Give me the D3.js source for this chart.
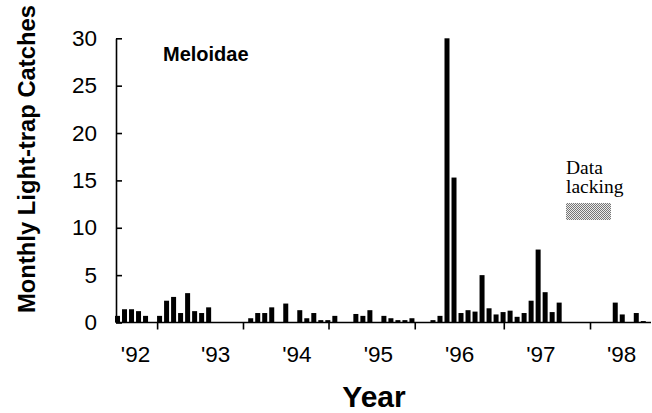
<!DOCTYPE html>
<html>
<head>
<meta charset="utf-8">
<script src="https://cdn.jsdelivr.net/npm/d3@7"></script>
<style>
  body { margin: 0; background: #fff; }
  svg { display: block; }
  .axis path, .axis line { stroke: #000; stroke-width: 1.6; }
  .axis text { font-family: "Liberation Sans", Arial, sans-serif; font-size: 22.5px; fill: #000; }
</style>
</head>
<body>
<div id="chart"></div>
<script>
// monthly catches, Jan '92 (month 0) .. Apr '98 (month 75); null = data lacking
var months = d3.range(76);
var catches = [
  0.7, 1.4, 1.4, 1.2, 0.7, 0, 0.7, 2.3, 2.7, 1.0, 3.1, 1.2,
  1.0, 1.6, 0, 0, 0, 0, 0, 0.45, 1.0, 1.0, 1.6, 0,
  2.0, 0, 1.3, 0.45, 1.0, 0.25, 0.25, 0.7, 0, 0, 0.9, 0.7,
  1.3, 0, 0.7, 0.45, 0.25, 0.25, 0.45, 0, 0, 0.25, 0.7, 30,
  15.3, 1.0, 1.3, 1.15, 5.0, 1.5, 0.85, 1.1, 1.25, 0.6, 1.0, 2.3,
  7.7, 3.2, 1.1, 2.1, null, null, null, null, null, null, null, 2.1,
  0.85, 0, 1.0, 0.15
];

// axis ticks / labels (in month units)
var tickMonths = [6.15, 18.4, 30.6, 42.9, 55.6, 67.9];
var yearLabels = ["'92", "'93", "'94", "'95", "'96", "'97", "'98"];
var labelMonths = [3.07, 14.5, 26.1, 37.7, 49.3, 60.9, 72.4];
var yTicks = [0, 5, 10, 15, 20, 25, 30];

var W = 652, H = 413;
var svg = d3.select('#chart').append('svg').attr('width', W).attr('height', H);

var x = d3.scaleLinear().domain([0, 76.6]).range([114, 651]);
var y = d3.scaleLinear().domain([0, 30]).range([322.5, 38.3]);
var barW = 5;
var yAxisX = 116;

// dotted fill for the "data lacking" key
var defs = svg.append('defs');
var pat = defs.append('pattern').attr('id', 'dots')
  .attr('width', 2).attr('height', 2).attr('patternUnits', 'userSpaceOnUse');
pat.append('rect').attr('width', 2).attr('height', 2).attr('fill', '#ececec');
pat.append('rect').attr('width', 1).attr('height', 1).attr('fill', '#777');
pat.append('rect').attr('x', 1).attr('y', 1).attr('width', 1).attr('height', 1).attr('fill', '#777');

// bars
var data = months.map((m, i) => ({m: m, v: catches[i]})).filter(d => d.v);
svg.append('g').selectAll('rect')
  .data(data)
  .enter().append('rect')
  .attr('x', d => x(d.m) + (x(d.m + 1) - x(d.m) - barW) / 2)
  .attr('width', barW)
  .attr('y', d => y(d.v))
  .attr('height', d => y(0) - y(d.v))
  .attr('fill', '#000');

// x axis
var xa = svg.append('g').attr('class', 'axis')
  .attr('transform', 'translate(0,' + y(0) + ')')
  .call(d3.axisBottom(x).tickValues(tickMonths).tickFormat('').tickSizeInner(7).tickSizeOuter(0));
xa.select('.domain').attr('d', 'M' + yAxisX + ',0H' + x.range()[1]);

svg.append('g').attr('class', 'axis')
  .selectAll('text')
  .data(yearLabels)
  .enter().append('text')
  .attr('x', (d, i) => x(labelMonths[i]))
  .attr('y', 362)
  .attr('text-anchor', 'middle')
  .text(d => d);

// y axis, ticks pointing inward
svg.append('g').attr('class', 'axis')
  .attr('transform', 'translate(' + yAxisX + ',0)')
  .call(d3.axisLeft(y).tickValues(yTicks).tickSizeInner(-6).tickSizeOuter(0).tickPadding(19));

// titles
svg.append('text')
  .attr('transform', 'translate(35,' + 159 + ') rotate(-90)')
  .attr('text-anchor', 'middle')
  .style('font-family', '"Liberation Sans", Arial, sans-serif')
  .style('font-weight', 'bold')
  .style('font-size', '23.8px')
  .text('Monthly Light-trap Catches');

svg.append('text')
  .attr('x', 374).attr('y', 407)
  .attr('text-anchor', 'middle')
  .style('font-family', '"Liberation Sans", Arial, sans-serif')
  .style('font-weight', 'bold')
  .style('font-size', '30px')
  .text('Year');

svg.append('text')
  .attr('x', 163).attr('y', 61)
  .style('font-family', '"Liberation Sans", Arial, sans-serif')
  .style('font-weight', 'bold')
  .style('font-size', '20px')
  .text('Meloidae');

// data lacking key
var key = svg.append('g').style('font-family', '"Liberation Serif", "Times New Roman", serif').style('font-size', '19.5px');
key.append('text').attr('x', 566).attr('y', 174).text('Data');
key.append('text').attr('x', 566).attr('y', 193).text('lacking');
key.append('rect').attr('x', 566).attr('y', 203).attr('width', 45).attr('height', 17).attr('fill', 'url(#dots)');
</script>
</body>
</html>
